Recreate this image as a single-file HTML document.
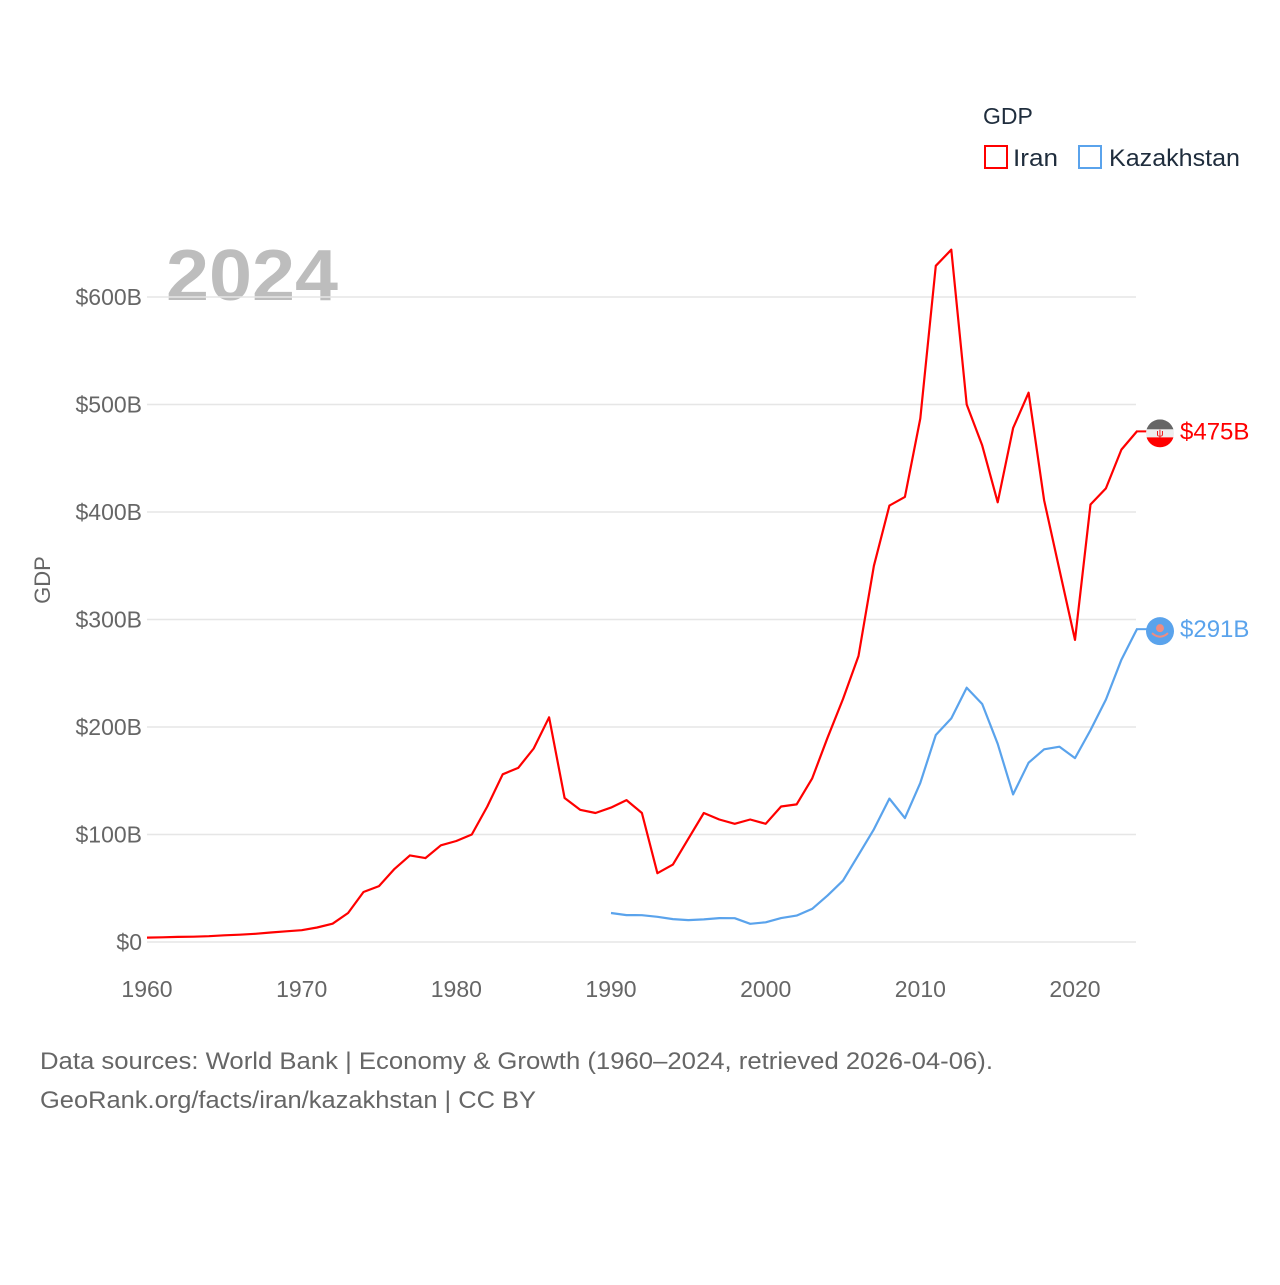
<!DOCTYPE html>
<html><head><meta charset="utf-8"><style>
body{margin:0;background:#fff;font-family:"Liberation Sans",sans-serif;}
svg text{font-family:"Liberation Sans",sans-serif;}
</style></head><body>
<svg width="1280" height="1280" id="chart" xmlns="http://www.w3.org/2000/svg">
<rect width="1280" height="1280" fill="#fff"/>
<text x="983" y="124" font-size="23" fill="#1f2d3d">GDP</text>
<g><rect x="985" y="146" width="22" height="22" fill="none" stroke="#ff0000" stroke-width="2"/><text x="1013" y="166" font-size="24" fill="#1f2d3d" textLength="45" lengthAdjust="spacingAndGlyphs">Iran</text></g>
<g><rect x="1079" y="146" width="22" height="22" fill="none" stroke="#5aa3ec" stroke-width="2"/><text x="1109" y="166" font-size="24" fill="#1f2d3d" textLength="131" lengthAdjust="spacingAndGlyphs">Kazakhstan</text></g>
<text x="166" y="300" font-size="72" font-weight="bold" fill="#bdbdbd" textLength="172" lengthAdjust="spacingAndGlyphs">2024</text>
<text transform="translate(50,580) rotate(-90)" text-anchor="middle" font-size="22" fill="#666">GDP</text>
<g id="grid"></g><g id="lines"></g><g id="ends"></g>
<text x="40" y="1069" font-size="24" fill="#666" textLength="953" lengthAdjust="spacingAndGlyphs">Data sources: World Bank | Economy &amp; Growth (1960–2024, retrieved 2026-04-06).</text>
<text x="40" y="1108" font-size="24" fill="#666" textLength="496" lengthAdjust="spacingAndGlyphs">GeoRank.org/facts/iran/kazakhstan | CC BY</text>
</svg>
<script>
const yTicks=[0,100,200,300,400,500,600];
const yTickLabels=["$0","$100B","$200B","$300B","$400B","$500B","$600B"];
const xTicks=[1960,1970,1980,1990,2000,2010,2020];
const iranStart=1960;
const iranValues=[4.1,4.4,4.7,4.9,5.4,6.2,6.8,7.6,8.8,10,11,13.5,17,27,46.5,52,68,80.6,78,90,94,100,126,156,162,180,209,134,123,120,125,132,120,64,72,96,120,114,110,114,110,126,128,152,190,226,266,350,406,414,487,629,644,500,462,409,478,511,411,346,281,407,422,458,475];
const kazStart=1990;
const kazValues=[27,25,24.9,23.4,21.3,20.4,21,22.2,22.1,16.9,18.3,22.2,24.6,30.8,43.2,57.1,81,104.8,133.4,115.3,148,192.6,208,236.6,221.4,184.4,137.3,166.8,179.3,181.7,171.1,197.1,225.5,262.6,291];
const NS="http://www.w3.org/2000/svg";
const xs=y=>147+(y-1960)*(1075-147)/60;
const ys=v=>942-v*(942-297)/600;
function mk(t,a,p){const e=document.createElementNS(NS,t);for(const k in a)e.setAttribute(k,a[k]);p.appendChild(e);return e;}
const grid=document.getElementById('grid');
yTicks.forEach((v,i)=>{
  const l=mk('line',{x1:147,x2:1136,y1:ys(v),y2:ys(v),stroke:'#e6e6e6','stroke-width':1.5},grid);
  
  
  const t=mk('text',{x:142,y:ys(v)+8,'text-anchor':'end','font-size':23,fill:'#666'},grid);
  t.textContent=yTickLabels[i];
  
  
});
xTicks.forEach(y=>{
  const t=mk('text',{x:xs(y),y:997,'text-anchor':'middle','font-size':23,fill:'#666'},grid);
  t.textContent=y;
  
  
});
const lines=document.getElementById('lines');
function series(vals,start,color,name){
  const d=vals.map((v,i)=>(i?'L':'M')+xs(start+i).toFixed(1)+','+ys(v).toFixed(1)).join(' ');
  const p=mk('path',{d:d,fill:'none',stroke:color,'stroke-width':2.2,'stroke-linejoin':'round'},lines);
  
  
  const lv=vals[vals.length-1];
  const ly=ys(lv);
  mk('line',{x1:1136,y1:ly,x2:1147,y2:ly,stroke:color,'stroke-width':2},lines);
  return ly;
}
const iy=series(iranValues,iranStart,'#ff0000','iran-line');
const ky=series(kazValues,kazStart,'#5aa3ec','kazakhstan-line');
const ends=document.getElementById('ends');
const gi=mk('g',{},ends);


const cp=mk('clipPath',{id:'cI'},gi);
mk('circle',{cx:1160,cy:iy+2,r:14},cp);
const gc=mk('g',{'clip-path':'url(#cI)'},gi);
mk('rect',{x:1146,y:iy-12,width:28,height:10,fill:'#666'},gc);
mk('rect',{x:1146,y:iy-2,width:28,height:8,fill:'#eee'},gc);
mk('rect',{x:1146,y:iy+6,width:28,height:10,fill:'#ff0000'},gc);
mk('text',{x:1160,y:iy+5,'text-anchor':'middle','font-size':10,fill:'#e00'},gi).textContent='ψ';
const vi=mk('text',{x:1180,y:iy+8,'font-size':24,fill:'#ff0000'},ends);
vi.textContent='$'+Math.round(iranValues[iranValues.length-1])+'B';


const gk=mk('g',{},ends);


mk('circle',{cx:1160,cy:ky+2,r:14,fill:'#5aa3ec'},gk);
mk('circle',{cx:1160,cy:ky-1,r:4,fill:'#f08c80'},gk);
mk('path',{d:`M1152,${ky+4} Q1160,${ky+11} 1168,${ky+4}`,fill:'none',stroke:'#f08c80','stroke-width':2},gk);
const vk=mk('text',{x:1180,y:ky+8,'font-size':24,fill:'#5aa3ec'},ends);
vk.textContent='$'+Math.round(kazValues[kazValues.length-1])+'B';


</script>
</body></html>
